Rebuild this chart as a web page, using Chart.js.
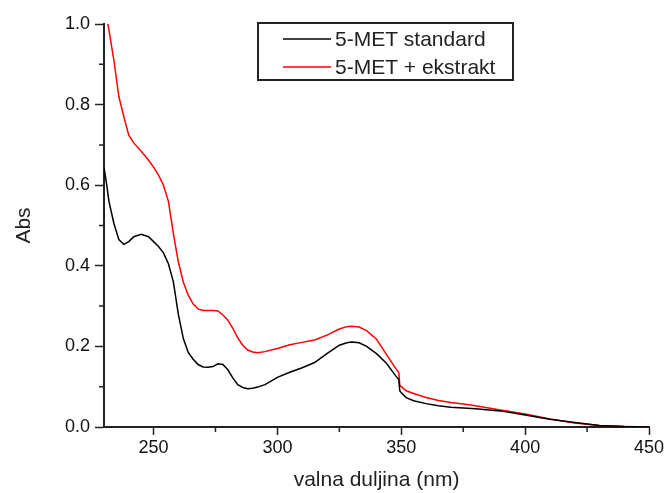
<!DOCTYPE html>
<html>
<head>
<meta charset="utf-8">
<script src="https://cdn.jsdelivr.net/npm/chart.js@4"></script>
<style>
  html, body { margin: 0; padding: 0; background: #fff; }
  #wrap { width: 668px; height: 493px; }
</style>
</head>
<body>
<div id="wrap"><canvas id="absChart"></canvas></div>
<script>
// wavelengths (nm) shared by both spectra
const wavelengths = [230, 231, 232, 234, 236, 238, 240, 242, 245, 248, 250, 252, 254, 256, 258, 260,
  262, 264, 266, 268, 270, 272, 274, 276, 278, 280, 282, 284, 286, 288, 290, 292, 295, 300, 305, 310,
  315, 320, 325, 328, 330, 333, 336, 340, 344, 348, 349, 349.4, 350, 352, 355, 360, 365, 370, 375, 380,
  390, 400, 410, 420, 430, 440, 450];

const standardAbs = [0.644, 0.605, 0.56, 0.505, 0.465, 0.453, 0.46, 0.472, 0.478, 0.472, 0.46, 0.448,
  0.432, 0.405, 0.36, 0.28, 0.22, 0.185, 0.168, 0.155, 0.149, 0.148, 0.15, 0.157, 0.155, 0.142, 0.122,
  0.105, 0.098, 0.095, 0.096, 0.099, 0.105, 0.123, 0.136, 0.147, 0.16, 0.182, 0.203, 0.209, 0.211,
  0.209, 0.2, 0.182, 0.158, 0.125, 0.118, 0.09, 0.085, 0.073, 0.065, 0.058, 0.053, 0.049, 0.047, 0.045,
  0.04, 0.03, 0.019, 0.011, 0.004, 0.001, 0];

const extractAbs = [1.06, 1.02, 0.985, 0.91, 0.82, 0.77, 0.724, 0.705, 0.684, 0.662, 0.645, 0.625,
  0.6, 0.56, 0.48, 0.41, 0.36, 0.327, 0.305, 0.293, 0.289, 0.289, 0.289, 0.288, 0.278, 0.265, 0.245,
  0.221, 0.203, 0.191, 0.186, 0.184, 0.187, 0.195, 0.204, 0.21, 0.216, 0.228, 0.243, 0.249, 0.25,
  0.248, 0.239, 0.218, 0.18, 0.143, 0.135, 0.104, 0.1, 0.09, 0.083, 0.073, 0.066, 0.061, 0.057, 0.053,
  0.042, 0.032, 0.02, 0.01, 0.004, 0.0015, 0];

const seriesNames = ['5-MET standard', '5-MET + ekstrakt'];
const seriesColors = ['#000000', '#ff0000'];
const xMinorTicks = [275, 325, 375, 425];
const yMinorTicks = [0.1, 0.3, 0.5, 0.7, 0.9];

const FONT = "'Liberation Sans', Arial, sans-serif";
const INK = '#222';

function toPoints(xs, ys) {
  return xs.map((x, i) => ({ x: x, y: ys[i] }));
}

// short minor ticks outside the axes
const minorTicks = {
  id: 'minorTicks',
  afterDraw(chart) {
    const ctx = chart.ctx;
    const xs = chart.scales.x, ys = chart.scales.y;
    const area = chart.chartArea;
    ctx.save();
    ctx.strokeStyle = INK;
    ctx.lineWidth = 1.5;
    ctx.beginPath();
    xMinorTicks.forEach(v => {
      const px = xs.getPixelForValue(v);
      ctx.moveTo(px, area.bottom);
      ctx.lineTo(px, area.bottom + 5);
    });
    yMinorTicks.forEach(v => {
      const py = ys.getPixelForValue(v);
      ctx.moveTo(area.left, py);
      ctx.lineTo(area.left - 5, py);
    });
    ctx.stroke();
    ctx.restore();
  }
};

// boxed legend in the upper middle of the plot
const boxLegend = {
  id: 'boxLegend',
  afterDraw(chart) {
    const ctx = chart.ctx;
    ctx.save();
    ctx.strokeStyle = INK;
    ctx.lineWidth = 2;
    ctx.strokeRect(258, 23, 255, 57);
    ctx.font = '21px ' + FONT;
    ctx.textBaseline = 'middle';
    ctx.fillStyle = INK;
    chart.data.datasets.forEach((ds, i) => {
      const y = 39 + i * 28;
      ctx.strokeStyle = ds.borderColor;
      ctx.lineWidth = 1.5;
      ctx.beginPath();
      ctx.moveTo(283, y);
      ctx.lineTo(331, y);
      ctx.stroke();
      ctx.fillText(ds.label, 335, y + 1);
    });
    ctx.restore();
  }
};

new Chart(document.getElementById('absChart'), {
  type: 'line',
  data: {
    datasets: [
      {
        label: seriesNames[0],
        data: toPoints(wavelengths, standardAbs),
        borderColor: seriesColors[0],
        borderWidth: 1.5,
        pointRadius: 0,
        tension: 0
      },
      {
        label: seriesNames[1],
        data: toPoints(wavelengths, extractAbs),
        borderColor: seriesColors[1],
        borderWidth: 1.5,
        pointRadius: 0,
        tension: 0
      }
    ]
  },
  options: {
    responsive: true,
    maintainAspectRatio: false,
    animation: false,
    layout: { padding: { top: 24, right: 19, bottom: 0, left: 0 } },
    plugins: {
      legend: { display: false },
      tooltip: { enabled: false }
    },
    scales: {
      x: {
        type: 'linear',
        min: 230,
        max: 450,
        afterFit(scale) { scale.height = 66; },
        ticks: {
          stepSize: 50,
          includeBounds: false,
          color: '#111',
          padding: 2,
          maxRotation: 0,
          font: { family: FONT, size: 18 }
        },
        grid: { drawOnChartArea: false, tickLength: 8, tickColor: INK, tickWidth: 1.5 },
        border: { color: INK, width: 2 },
        title: {
          display: true,
          text: 'valna duljina (nm)',
          color: INK,
          padding: { top: 0, bottom: 0 },
          font: { family: FONT, size: 21 }
        }
      },
      y: {
        min: 0,
        max: 1,
        afterFit(scale) { scale.width = 104; },
        ticks: {
          stepSize: 0.2,
          color: '#111',
          padding: 5,
          font: { family: FONT, size: 18 },
          callback: v => v.toFixed(1)
        },
        grid: { drawOnChartArea: false, tickLength: 9, tickColor: INK, tickWidth: 1.5 },
        border: { color: INK, width: 2 },
        title: {
          display: true,
          text: 'Abs',
          color: INK,
          padding: { top: 12, bottom: 0 },
          font: { family: FONT, size: 21 }
        }
      }
    }
  },
  plugins: [minorTicks, boxLegend]
});
</script>
</body>
</html>
